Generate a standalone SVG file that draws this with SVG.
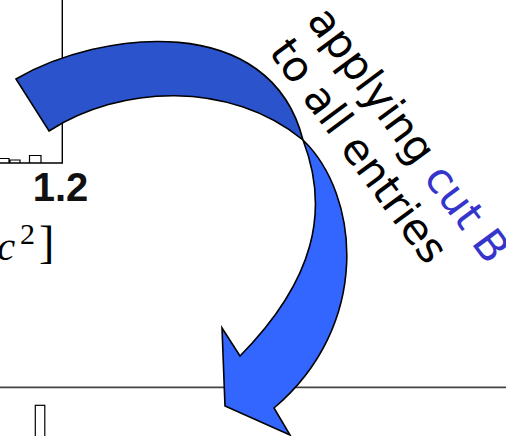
<svg xmlns="http://www.w3.org/2000/svg" width="506" height="436" viewBox="0 0 506 436">
<style>
.ax{fill:none;stroke:#000;stroke-width:1.4}
.bar{fill:none;stroke:#000;stroke-width:1.2}
.arr{stroke:#000;stroke-width:1.6;stroke-linejoin:miter}
.lbl{font-family:"DejaVu Sans",sans-serif;font-size:42.5px;fill:#000}
.num{font-family:"Liberation Sans",Arial,sans-serif;font-weight:bold;font-size:40px;fill:#111}
.math{font-family:"Liberation Serif","Times New Roman",serif;fill:#000}
</style>
<rect width="506" height="436" fill="#fff"/>
<g id="hist-top">
<path class="ax" d="M62.3,0 V163 H0"/>
<path class="bar" d="M0,158.5 H9 V163 M10,163 V160 H20 V163 M29.5,163 V155.5 H41 V163"/>
<text class="num" x="60.5" y="201" text-anchor="middle">1.2</text>
</g>
<g id="axis-label">
<text class="math" x="-3" y="260" font-size="41" font-style="italic">c</text>
<text class="math" x="20" y="244" font-size="30">2</text>
<text class="math" x="39" y="258" font-size="46">]</text>
</g>
<g id="hist-bottom">
<path d="M0,387.3 H506" fill="none" stroke="#444" stroke-width="1.7"/>
<rect x="35.3" y="405.3" width="9.5" height="40" fill="none" stroke="#000" stroke-width="1.2"/>
</g>
<g id="connectors">
<path id="arrow-back" class="arr" fill="#2A53CC" d="M16,79 C100,30 270,10 303,140 C230,80 120,85 49,131 Z"/>
<path id="arrow-front" class="arr" fill="#3366FF" d="M303,140 C330,210 315,280 240,356 L222,328 L225,406 L290,435 L274,408 C372,325 360,195 303,140 Z"/>
</g>
<g id="label" transform="translate(306,20.4) rotate(53.5)">
<text class="lbl" x="0" y="0">applying <tspan fill="#3535CC">cut B</tspan></text>
<text class="lbl" x="3" y="49.5">to all entries</text>
</g>
</svg>
